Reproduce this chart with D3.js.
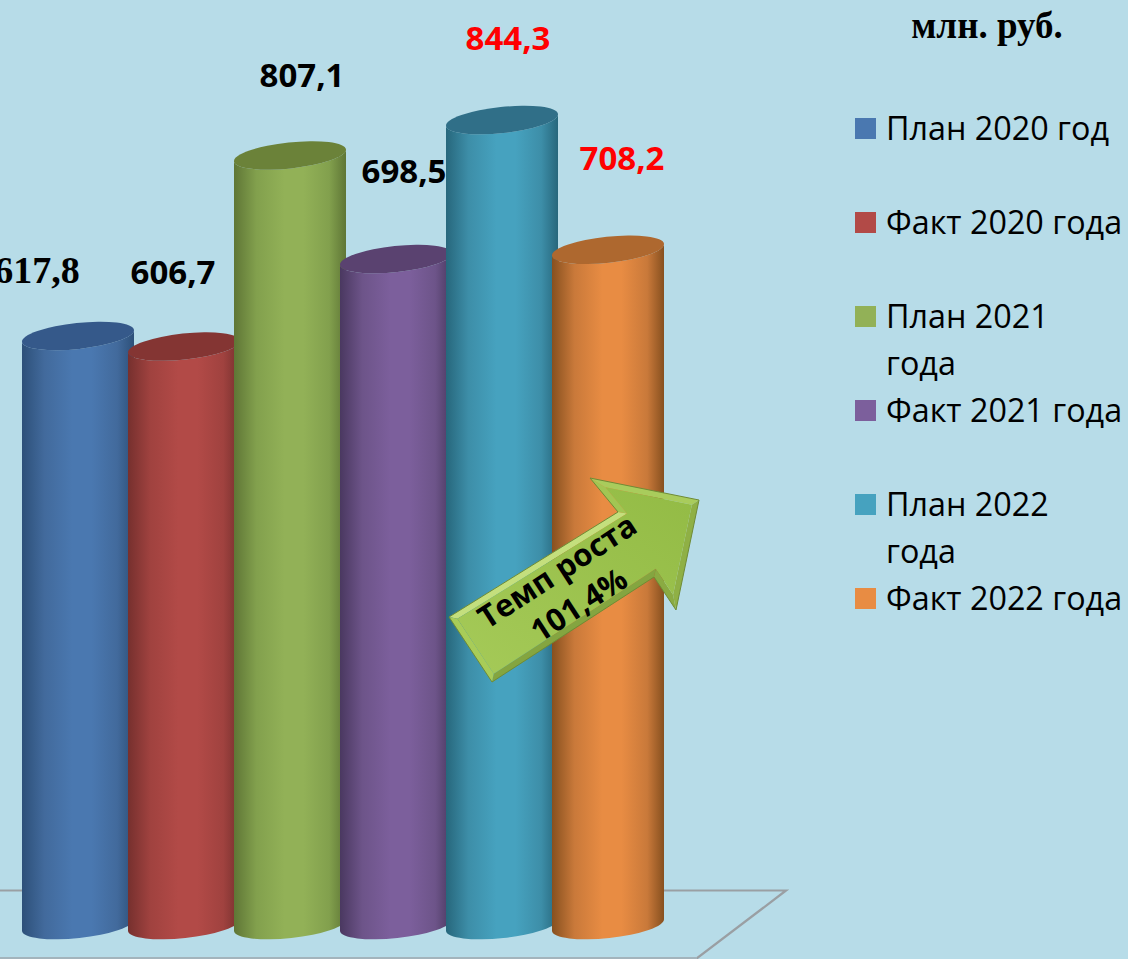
<!DOCTYPE html>
<html><head><meta charset="utf-8">
<script src="https://cdn.jsdelivr.net/npm/d3@7"></script>
<style>html,body{margin:0;padding:0;background:#b7dce8;overflow:hidden}svg{display:block}</style>
</head><body><svg id="c" width="1128" height="959"></svg>
<script>
const categories=["План 2020 год","Факт 2020 года","План 2021 года","Факт 2021 года","План 2022 года","Факт 2022 года"];
const values=[617.8,606.7,807.1,698.5,844.3,708.2];
const valueLabels=["617,8","606,7","807,1","698,5","844,3","708,2"];
const legendLines=[["План 2020 год"],["Факт 2020 года"],["План 2021","года"],["Факт 2021 года"],["План 2022","года"],["Факт 2022 года"]];
const lightColors=["#4a78b0","#b24a47","#92b157","#7c5f9c","#46a2bf","#e88c43"];
const midColors=["#426a9c","#a0423f","#82a04d","#6d5489","#3d8ea8","#c9793a"];
const darkColors=["#2d5079","#76302e","#5f7636","#4a3860","#27677c","#87501f"];
const topColors=["#35598a","#843533","#6b8239","#5a4270","#306f88","#ae682f"];
const labelColors=["#000","#000","#000","#000","#f00","#f00"];
const labelOffsets=[[-41,-53],[-11,-63],[12,-68],[8,-76],[6,-70],[14,-80]];
const labelFonts=["'Liberation Serif'","'Open Sans'","'Open Sans'","'Open Sans'","'Open Sans'","'Open Sans'"];
const unitLabel="млн. руб.";
const arrowLines=["Темп роста","101,4%"];
const arrowOutline=[[449,617],[618,512],[590,478],[699,500],[676,610],[654,577],[492,682]];

const svg=d3.select("#c");
const defs=svg.append("defs");
const x=d3.scalePoint().domain(categories).range([78,608]);
const y=d3.scaleLinear().domain([0,844.3]).range([925,120]);
const W=112,DY=6,RY=13,RX=Math.hypot(W/2,DY),ROT=-Math.atan2(DY,W/2)*180/Math.PI;

categories.forEach((c,i)=>{
  const g=defs.append("linearGradient").attr("id","b"+i);
  [[0,darkColors[i]],[.2,midColors[i]],[.45,lightColors[i]],[.62,lightColors[i]],[.85,midColors[i]],[1,darkColors[i]]]
    .forEach(s=>g.append("stop").attr("offset",s[0]).attr("stop-color",s[1]));
});

// floor
svg.append("path").attr("fill","none").attr("stroke","#9a9fa3").attr("stroke-width",2.2)
  .attr("d","M0,890.5H786L696,959");
svg.append("path").attr("fill","none").attr("stroke","#a3b4bc").attr("stroke-width",2)
  .attr("d","M0,958H697");

// cylinders
const cyl=svg.selectAll("g.cyl").data(categories).join("g").attr("class","cyl");
cyl.append("path").attr("fill",(d,i)=>`url(#b${i})`).attr("d",(d,i)=>{
  const cx=x(d),t=y(values[i]),b=y(0),l=cx-W/2,r=cx+W/2;
  return `M${l},${t+DY}L${l},${b+DY}A${RX},${RY} ${ROT} 0 0 ${r},${b-DY}L${r},${t-DY}A${RX},${RY} ${ROT} 0 1 ${l},${t+DY}Z`;
});
cyl.append("ellipse").attr("rx",RX).attr("ry",RY).attr("fill",(d,i)=>topColors[i])
  .attr("transform",(d,i)=>`translate(${x(d)},${y(values[i])}) rotate(${ROT})`);

// value labels
svg.selectAll("text.v").data(valueLabels).join("text").attr("class","v")
  .attr("x",(d,i)=>x(categories[i])+labelOffsets[i][0])
  .attr("y",(d,i)=>y(values[i])+labelOffsets[i][1])
  .attr("text-anchor","middle").attr("font-family",(d,i)=>labelFonts[i])
  .attr("font-weight","bold").attr("font-size",(d,i)=>i==0?38:33).attr("fill",(d,i)=>labelColors[i]).text(d=>d);

// unit
svg.append("text").attr("x",987).attr("y",38).attr("text-anchor","middle")
  .attr("font-family","'Liberation Serif'").attr("font-weight","bold").attr("font-size",37).attr("fill","#000").text(unitLabel);

// legend
const lg=svg.selectAll("g.l").data(categories).join("g").attr("class","l")
  .attr("transform",(d,i)=>`translate(855,${118+i*94})`);
lg.append("rect").attr("width",21).attr("height",21).attr("fill",(d,i)=>lightColors[i]);
lg.append("text").attr("x",31).attr("y",22).attr("font-family","'Open Sans'").attr("font-size",32.3).attr("fill","#000")
  .selectAll("tspan").data((d,i)=>legendLines[i]).join("tspan").attr("x",31).attr("dy",(d,j)=>j?47:0).text(d=>d);

// growth arrow
function inset(p,o){
  const n=p.length,area=d3.polygonArea(p),s=area>0?-1:1;
  return p.map((v,i)=>{
    const a=p[(i+n-1)%n],b=p[(i+1)%n];
    const nrm=(u,w)=>{const dx=w[0]-u[0],dy=w[1]-u[1],L=Math.hypot(dx,dy);return[-dy/L*s,dx/L*s]};
    const n1=nrm(a,v),n2=nrm(v,b),d=1+n1[0]*n2[0]+n1[1]*n2[1];
    return [v[0]+o*(n1[0]+n2[0])/d,v[1]+o*(n1[1]+n2[1])/d];
  });
}
const ag=defs.append("linearGradient").attr("id","ar").attr("x1",0).attr("y1",1).attr("x2",1).attr("y2",0);
ag.append("stop").attr("offset",0).attr("stop-color","#a5ca58");
ag.append("stop").attr("offset",1).attr("stop-color","#93bb45");
const inner=inset(arrowOutline,6);
const facetColors=["#c4df7d","#a2c653","#a9cc5c","#8fb045","#8aab42","#84a540","#a8cc58"];
arrowOutline.forEach((p,i)=>{
  const j=(i+1)%arrowOutline.length;
  svg.append("polygon").attr("points",[p,arrowOutline[j],inner[j],inner[i]].join(" ")).attr("fill",facetColors[i]);
});
svg.append("polygon").attr("points",inner.join(" ")).attr("fill","url(#ar)");
svg.append("polygon").attr("points",arrowOutline.join(" ")).attr("fill","none").attr("stroke","#6f8b35").attr("stroke-width",1);
svg.append("g").attr("transform","translate(568,588) rotate(-33)")
  .selectAll("text").data(arrowLines).join("text").attr("text-anchor","middle").attr("y",(d,i)=>i*40-9)
  .attr("font-family","'Open Sans'").attr("font-weight","bold").attr("font-size",31).attr("fill","#000").text(d=>d);
</script></body></html>
